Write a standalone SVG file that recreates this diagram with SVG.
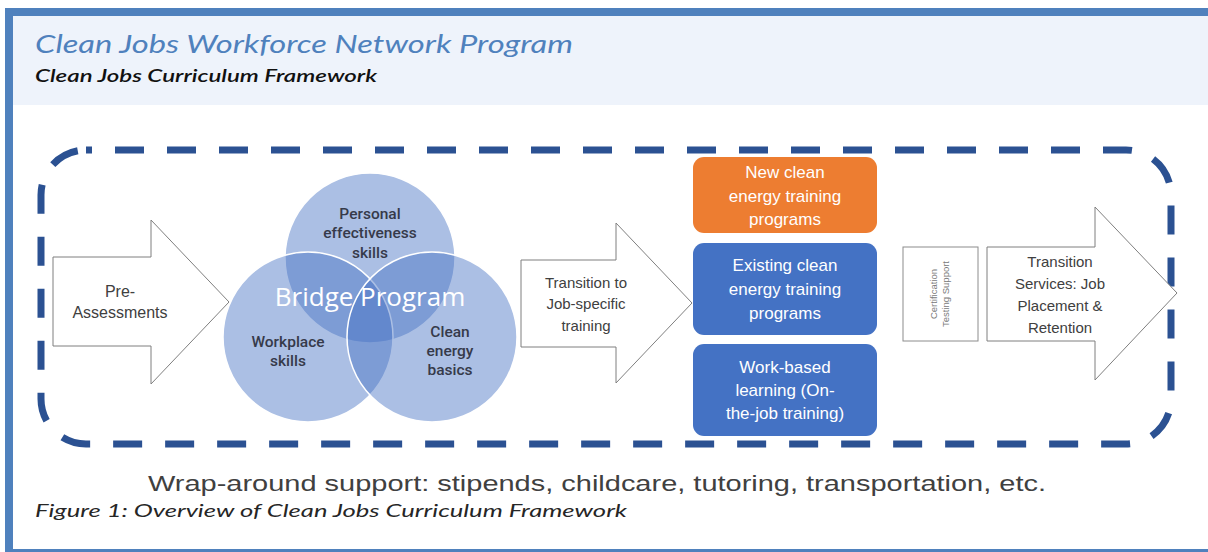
<svg xmlns="http://www.w3.org/2000/svg" width="1208" height="552" viewBox="0 0 1208 552">
<defs>
<style>
.t{font-family:"Liberation Sans",Arial,sans-serif;fill:#404040;text-anchor:middle}
.c{font-family:Roboto,"Liberation Sans",Arial,sans-serif;font-weight:500;fill:#363a4a;text-anchor:middle;font-size:15.5px}
.w{font-family:"Liberation Sans",Arial,sans-serif;fill:#ffffff;text-anchor:middle;font-size:17px}
.arrow{fill:#ffffff;stroke:#7f7f7f;stroke-width:1}
.circ{fill:#4472c4;fill-opacity:0.45;stroke:#ffffff;stroke-width:1.5}
.box{stroke:none}
</style>
</defs>
<rect x="0" y="0" width="1208" height="552" fill="#ffffff"/>
<!-- frame -->
<rect x="13" y="16" width="1195" height="89" fill="#eef3fb"/>
<rect x="5" y="8" width="1203" height="8" fill="#4f81bd"/>
<rect x="5" y="8" width="8" height="544" fill="#4f81bd"/>
<rect x="5" y="549" width="1203" height="3" fill="#4f81bd"/>
<text x="35" y="53" font-family="Lato,'Open Sans',sans-serif" font-style="italic" font-size="25" fill="#4f81bd" textLength="538" lengthAdjust="spacingAndGlyphs">Clean Jobs Workforce Network Program</text>
<text x="35" y="82" font-family="Lato,'Open Sans',sans-serif" font-style="italic" font-weight="600" font-size="17" fill="#111111" textLength="342" lengthAdjust="spacingAndGlyphs">Clean Jobs Curriculum Framework</text>

<!-- dashed boundary -->
<g id="boundary">
<rect x="41" y="150" width="1130" height="294" rx="45" ry="45" fill="none" stroke="#2b5192" stroke-width="7" stroke-dasharray="29 23" stroke-dashoffset="23"/>
</g>

<g id="connectors"></g>

<g id="pre-assessments">
<path class="arrow" d="M53,257 H151 V220 L229,302 L151,384 V346 H53 Z"/>
<text class="t" font-size="16" x="120" y="297">Pre-</text>
<text class="t" font-size="16" x="120" y="318">Assessments</text>
</g>

<g id="bridge-program">
<circle class="circ" cx="370" cy="258" r="85"/>
<circle class="circ" cx="308" cy="337" r="85"/>
<circle class="circ" cx="432" cy="337" r="85"/>
<text class="c" x="370" y="219">Personal</text>
<text class="c" x="370" y="238">effectiveness</text>
<text class="c" x="370" y="258">skills</text>
<text x="370" y="306" font-family="'Open Sans','Liberation Sans',sans-serif" font-size="26" fill="#ffffff" text-anchor="middle">Bridge Program</text>
<text class="c" x="288" y="347">Workplace</text>
<text class="c" x="288" y="366">skills</text>
<text class="c" x="450" y="337">Clean</text>
<text class="c" x="450" y="356">energy</text>
<text class="c" x="450" y="375">basics</text>
</g>

<g id="transition-job">
<path class="arrow" d="M521,260 H616 V223 L692,303 L616,383 V347 H521 Z"/>
<text class="t" font-size="15" x="586" y="288">Transition to</text>
<text class="t" font-size="15" x="586" y="309">Job-specific</text>
<text class="t" font-size="15" x="586" y="331">training</text>
</g>

<g id="new-programs">
<rect class="box" x="693" y="157" width="184" height="76" rx="11" fill="#ed7d31"/>
<text class="w" x="785" y="178">New clean</text>
<text class="w" x="785" y="202">energy training</text>
<text class="w" x="785" y="225">programs</text>
</g>

<g id="existing-programs">
<rect class="box" x="693" y="243" width="184" height="92" rx="11" fill="#4472c4"/>
<text class="w" x="785" y="271">Existing clean</text>
<text class="w" x="785" y="295">energy training</text>
<text class="w" x="785" y="319">programs</text>
</g>

<g id="work-based">
<rect class="box" x="693" y="344" width="184" height="92" rx="11" fill="#4472c4"/>
<text class="w" x="785" y="373">Work-based</text>
<text class="w" x="785" y="396">learning (On-</text>
<text class="w" x="785" y="419">the-job training)</text>
</g>

<g id="certification">
<rect x="903" y="247" width="75" height="94" fill="#ffffff" stroke="#8c8c8c" stroke-width="1"/>
<g transform="translate(940,294) rotate(-90)">
<text x="0" y="-3" font-family="'Liberation Sans',Arial,sans-serif" font-size="9.5" fill="#7a7a7a" text-anchor="middle">Certification</text>
<text x="0" y="9" font-family="'Liberation Sans',Arial,sans-serif" font-size="9.5" fill="#7a7a7a" text-anchor="middle">Testing Support</text>
</g>
</g>

<g id="transition-services">
<path class="arrow" d="M987,247 H1095 V207 L1177,293 L1095,380 V341 H987 Z"/>
<text class="t" font-size="15" x="1060" y="267">Transition</text>
<text class="t" font-size="15" x="1060" y="289">Services: Job</text>
<text class="t" font-size="15" x="1060" y="311">Placement &amp;</text>
<text class="t" font-size="15" x="1060" y="333">Retention</text>
</g>

<text x="597" y="491" font-family="'Liberation Sans',Arial,sans-serif" font-size="22" fill="#404040" text-anchor="middle" textLength="898" lengthAdjust="spacingAndGlyphs">Wrap-around support: stipends, childcare, tutoring, transportation, etc.</text>
<text x="35" y="517" font-family="Lato,'Open Sans',sans-serif" font-style="italic" font-size="18" fill="#262626" textLength="592" lengthAdjust="spacingAndGlyphs">Figure 1: Overview of Clean Jobs Curriculum Framework</text>
</svg>
